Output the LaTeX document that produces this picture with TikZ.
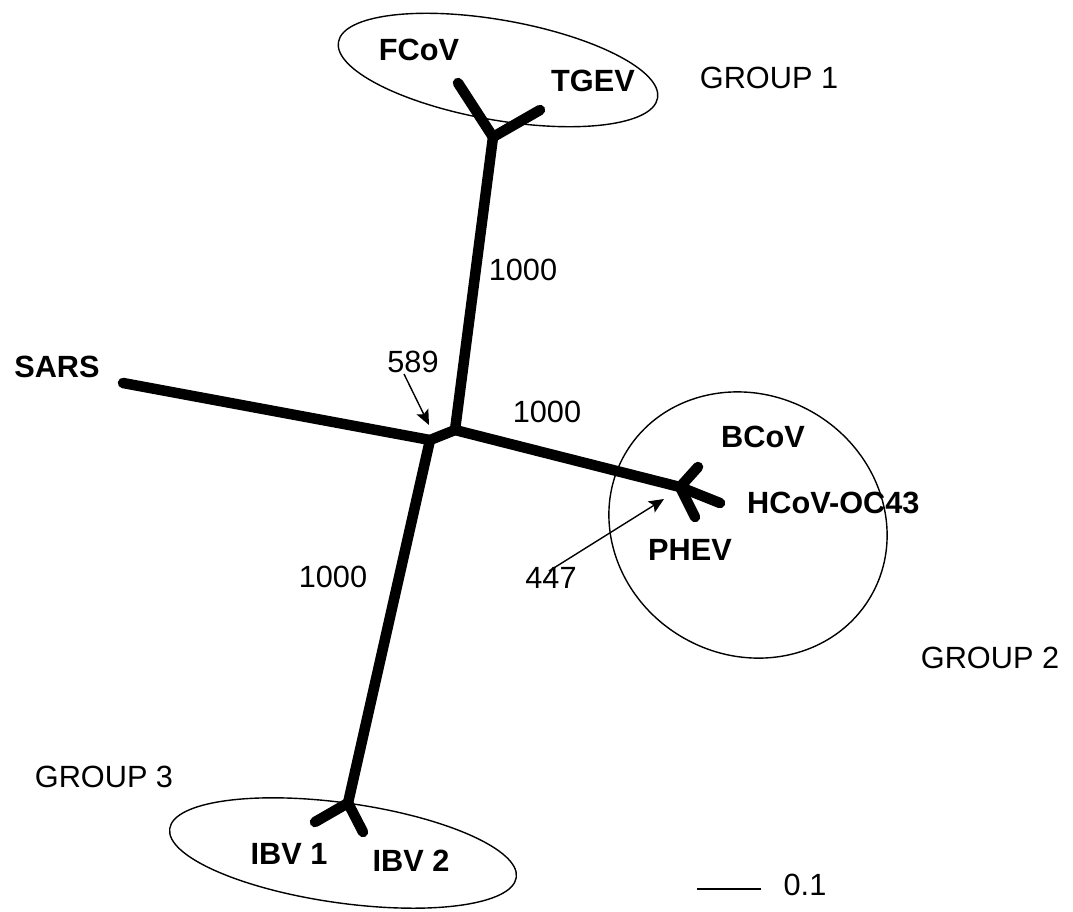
\documentclass[tikz,border=0pt]{standalone}
\usepackage{fontspec}
\setmainfont{Liberation Sans}
\usetikzlibrary{arrows.meta}
\begin{document}
\begin{tikzpicture}[x=1pt,y=-1pt,
  branch/.style={line width=10.5pt,line cap=round,line join=round},
  grp/.style={line width=1.4pt},
  lab/.style={font=\fontsize{30.7}{36}\selectfont, inner sep=0pt},
  taxon/.style={inner sep=0pt, font=\fontsize{30.7}{36}\selectfont\bfseries},
  ptr/.style={line width=1.4pt,-{Stealth[length=15pt,width=13pt,inset=3pt]}}]
\useasboundingbox (0,0) rectangle (1073,911);
% group outlines
\draw[grp, rotate around={-10:(498,70)}] (498,70) ellipse [x radius=162, y radius=50];
\draw[grp, rotate around={-30:(748,525)}] (748,525) ellipse [x radius=142, y radius=130];
\draw[grp, rotate around={-8:(343,853)}] (343,853) ellipse [x radius=175, y radius=50];
% tree coordinates
\coordinate (t1) at (493,137);
\coordinate (lfcov) at (458,83);
\coordinate (ltgev) at (540,110);
\coordinate (c1) at (455,430);
\coordinate (c2) at (430,440);
\coordinate (lsars) at (123,383);
\coordinate (g2) at (680,487);
\coordinate (lbcov) at (698,467);
\coordinate (lhcov) at (720,503);
\coordinate (lphev) at (695,517);
\coordinate (b3) at (348,803);
\coordinate (libv1) at (315,822);
\coordinate (libv2) at (363,832);
% branches
\draw[branch] (lsars) -- (c2) -- (c1) -- (t1);
\draw[branch] (t1) -- (lfcov);
\draw[branch] (t1) -- (ltgev);
\draw[branch] (c1) -- (g2);
\draw[branch] (g2) -- (lbcov);
\draw[branch] (g2) -- (lhcov);
\draw[branch] (g2) -- (lphev);
\draw[branch] (c2) -- (b3);
\draw[branch] (b3) -- (libv1);
\draw[branch] (b3) -- (libv2);
% taxon labels
\node[taxon] (fcov) at (419,50) {FCoV};
\node[taxon] (tgev) at (593,81) {TGEV};
\node[taxon] (sars) at (57,367) {SARS};
\node[taxon] (bcov) at (763,437) {BCoV};
\node[taxon, anchor=west] (hcov) at (747,503) {HCoV-OC43};
\node[taxon] (phev) at (690,550) {PHEV};
\node[taxon] (ibv1) at (289,854) {IBV 1};
\node[taxon] (ibv2) at (411,861) {IBV 2};
% group labels
\node[lab] (g1lab) at (769,78) {GROUP 1};
\node[lab] (g2lab) at (990,658) {GROUP 2};
\node[lab] (g3lab) at (104,777) {GROUP 3};
% bootstrap values
\node[lab] (b1000a) at (523,270) {1000};
\node[lab] (b589) at (413,362) {589};
\node[lab] (b1000b) at (547,412) {1000};
\node[lab] (b1000c) at (333,577) {1000};
\node[lab] (b447) at (551,578) {447};
% pointer arrows
\coordinate (a589s) at (404,374);
\coordinate (a589e) at (429,425);
\draw[ptr] (a589s) -- (a589e);
\coordinate (a447s) at (549,571);
\coordinate (a447e) at (664,499);
\draw[ptr] (a447s) -- (a447e);
% scale bar
\coordinate (sb1) at (697,889);
\coordinate (sb2) at (761,889);
\draw[line width=1.5pt] (sb1) -- (sb2);
\node[lab] (sblab) at (805,885) {0.1};
\end{tikzpicture}
\end{document}
